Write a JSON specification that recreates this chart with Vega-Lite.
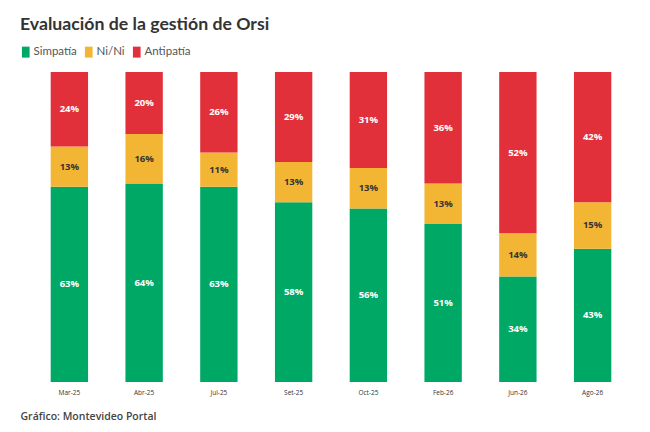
{
  "$schema": "https://vega.github.io/schema/vega-lite/v6.json",
  "width": 598,
  "height": 310,
  "padding": {"left": 32, "top": 72, "right": 20, "bottom": 50},
  "autosize": {"type": "none"},
  "background": "white",
  "title": {
    "text": "Evaluación de la gestión de Orsi",
    "anchor": "start",
    "frame": "group",
    "font": "Lato",
    "fontSize": 17.7,
    "fontWeight": 700,
    "color": "#333333",
    "dx": -12,
    "offset": 12
  },
  "config": {
    "view": {"stroke": null},
    "font": "Lato"
  },
  "data": {
    "values": [
      {"mes": "Mar-25", "grupo": "Simpatía", "valor": 63},
      {"mes": "Mar-25", "grupo": "Ni/Ni", "valor": 13},
      {"mes": "Mar-25", "grupo": "Antipatía", "valor": 24},
      {"mes": "Abr-25", "grupo": "Simpatía", "valor": 64},
      {"mes": "Abr-25", "grupo": "Ni/Ni", "valor": 16},
      {"mes": "Abr-25", "grupo": "Antipatía", "valor": 20},
      {"mes": "Jul-25", "grupo": "Simpatía", "valor": 63},
      {"mes": "Jul-25", "grupo": "Ni/Ni", "valor": 11},
      {"mes": "Jul-25", "grupo": "Antipatía", "valor": 26},
      {"mes": "Set-25", "grupo": "Simpatía", "valor": 58},
      {"mes": "Set-25", "grupo": "Ni/Ni", "valor": 13},
      {"mes": "Set-25", "grupo": "Antipatía", "valor": 29},
      {"mes": "Oct-25", "grupo": "Simpatía", "valor": 56},
      {"mes": "Oct-25", "grupo": "Ni/Ni", "valor": 13},
      {"mes": "Oct-25", "grupo": "Antipatía", "valor": 31},
      {"mes": "Feb-26", "grupo": "Simpatía", "valor": 51},
      {"mes": "Feb-26", "grupo": "Ni/Ni", "valor": 13},
      {"mes": "Feb-26", "grupo": "Antipatía", "valor": 36},
      {"mes": "Jun-26", "grupo": "Simpatía", "valor": 34},
      {"mes": "Jun-26", "grupo": "Ni/Ni", "valor": 14},
      {"mes": "Jun-26", "grupo": "Antipatía", "valor": 52},
      {"mes": "Ago-26", "grupo": "Simpatía", "valor": 43},
      {"mes": "Ago-26", "grupo": "Ni/Ni", "valor": 15},
      {"mes": "Ago-26", "grupo": "Antipatía", "valor": 42}
    ]
  },
  "encoding": {
    "x": {
      "field": "mes",
      "type": "nominal",
      "sort": null,
      "scale": {"paddingInner": 0.5, "paddingOuter": 0.25},
      "axis": {
        "title": "Gráfico: Montevideo Portal",
        "titleAnchor": "start",
        "titleAlign": "left",
        "titleX": -12,
        "titleY": 37,
        "titleBaseline": "alphabetic",
        "titleFont": "Open Sans",
        "titleFontSize": 10.5,
        "titleFontWeight": 600,
        "titleColor": "#444444",
        "labelAngle": 0,
        "labelFont": "Open Sans",
        "labelFontSize": 6.5,
        "labelColor": "#333333",
        "labelPadding": 7,
        "domain": false,
        "ticks": false
      }
    },
    "y": {
      "field": "valor",
      "type": "quantitative",
      "stack": "normalize",
      "axis": null
    },
    "order": {"field": "grupo", "sort": "descending"}
  },
  "layer": [
    {
      "mark": {"type": "bar"},
      "encoding": {
        "color": {
          "field": "grupo",
          "type": "nominal",
          "scale": {
            "domain": ["Simpatía", "Ni/Ni", "Antipatía"],
            "range": ["#00A865", "#F3B634", "#E2303B"]
          },
          "legend": {
            "title": null,
            "orient": "none",
            "direction": "horizontal",
            "legendX": -12,
            "legendY": -26,
            "symbolType": "M-0.7,-1H0.7V1H-0.7Z",
            "symbolSize": 120,
            "symbolStrokeWidth": 0,
            "labelFontSize": 11.5,
            "labelColor": "#555555",
            "labelFont": "Lato",
            "labelOffset": 2,
            "columnPadding": 6
          }
        }
      }
    },
    {
      "mark": {"type": "text", "fontSize": 9.5, "fontWeight": 700, "font": "Open Sans", "text": {"expr": "datum.valor + '%'"}},
      "encoding": {
        "y": {
          "field": "valor",
          "type": "quantitative",
          "stack": "normalize",
          "bandPosition": 0.5
        },
        "color": {
          "condition": {"test": "datum.grupo === 'Ni/Ni'", "value": "#333333"},
          "value": "white"
        }
      }
    }
  ]
}
